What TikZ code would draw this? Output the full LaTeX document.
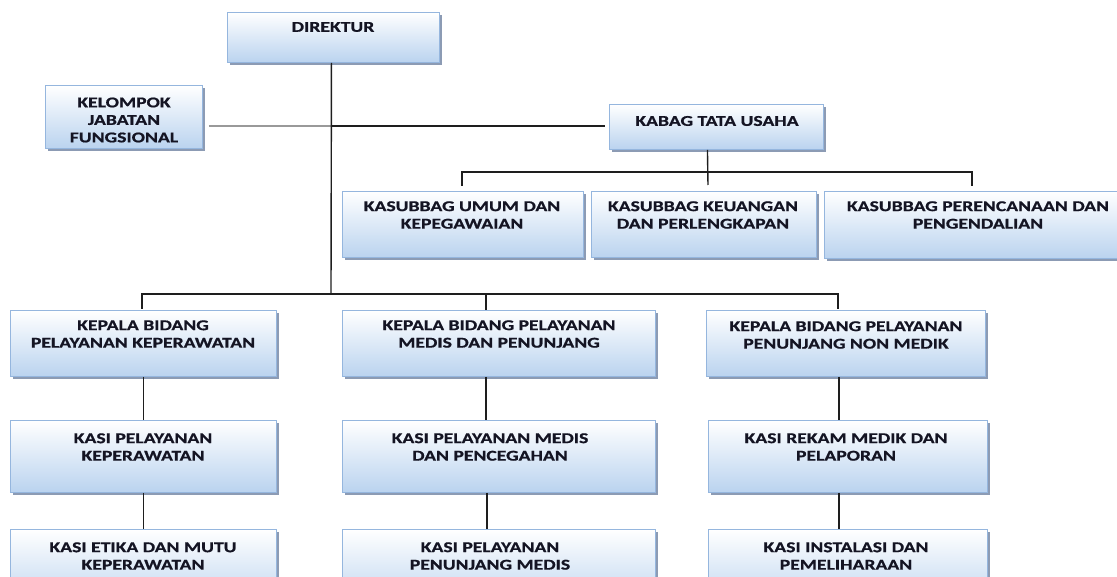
\documentclass[tikz,border=0pt]{standalone}
\usepackage{fontspec}
\newfontfamily\bxfont{Carlito}[FakeStretch=1.31, FakeBold=0.8]
\usetikzlibrary{shadows}
\definecolor{boxblue}{RGB}{186,211,239}
\definecolor{boxline}{RGB}{149,182,222}
\definecolor{shadowc}{RGB}{140,155,180}
\definecolor{linec}{RGB}{30,30,30}
\definecolor{txtc}{RGB}{20,20,35}
\tikzset{
  orgbox/.style={rectangle, draw=boxline, line width=0.9pt, top color=white, bottom color=boxblue,
    anchor=north west, inner sep=0pt,
    drop shadow={shadow xshift=3pt, shadow yshift=-3pt, opacity=1, fill=shadowc}},
  orgtxt/.style={align=center, inner sep=0pt, text=txtc,
    font=\bxfont\bfseries\fontsize{15}{17.5}\selectfont},
  conn/.style={draw=linec, line width=1.4pt},
  lconn/.style={draw=gray!80, line width=1.1pt}
}
\begin{document}
\begin{tikzpicture}[x=1pt,y=-1pt]
\useasboundingbox (0,0) rectangle (1117,577);
\clip (0,0) rectangle (1117,577);
% boxes
\node[orgbox, minimum width=212, minimum height=50] (dir) at (227,12) {};
\node[orgbox, minimum width=157, minimum height=63] (kel) at (45,85) {};
\node[orgbox, minimum width=214, minimum height=45] (kab) at (609,104) {};
\node[orgbox, minimum width=241, minimum height=66] (ks1) at (342,191) {};
\node[orgbox, minimum width=225, minimum height=66] (ks2) at (591,191) {};
\node[orgbox, minimum width=310, minimum height=67] (ks3) at (824,191) {};
\node[orgbox, minimum width=266, minimum height=66] (b1) at (10,310) {};
\node[orgbox, minimum width=313, minimum height=66] (b2) at (342,310) {};
\node[orgbox, minimum width=279, minimum height=66] (b3) at (706,310) {};
\node[orgbox, minimum width=266, minimum height=72] (c1) at (10,420) {};
\node[orgbox, minimum width=313, minimum height=72] (c2) at (342,420) {};
\node[orgbox, minimum width=279, minimum height=72] (c3) at (708,420) {};
\node[orgbox, minimum width=266, minimum height=80] (d1) at (10,529) {};
\node[orgbox, minimum width=313, minimum height=80] (d2) at (342,529) {};
\node[orgbox, minimum width=279, minimum height=80] (d3) at (708,529) {};
% texts
\node[orgtxt] (tdir) at (333,27) {DIREKTUR};
\node[orgtxt] (tkel) at (124,120) {KELOMPOK\\JABATAN\\FUNGSIONAL};
\node[orgtxt] (tkab) at (717,121) {KABAG TATA USAHA};
\node[orgtxt] (tks1) at (462,215) {KASUBBAG UMUM DAN\\KEPEGAWAIAN};
\node[orgtxt] (tks2) at (703,215) {KASUBBAG KEUANGAN\\DAN PERLENGKAPAN};
\node[orgtxt] (tks3) at (978,215) {KASUBBAG PERENCANAAN DAN\\PENGENDALIAN};
\node[orgtxt] (tb1) at (143,334) {KEPALA BIDANG\\PELAYANAN KEPERAWATAN};
\node[orgtxt] (tb2) at (499,334) {KEPALA BIDANG PELAYANAN\\MEDIS DAN PENUNJANG};
\node[orgtxt] (tb3) at (846,335) {KEPALA BIDANG PELAYANAN\\PENUNJANG NON MEDIK};
\node[orgtxt] (tc1) at (143,447) {KASI PELAYANAN\\KEPERAWATAN};
\node[orgtxt] (tc2) at (490,447) {KASI PELAYANAN MEDIS\\DAN PENCEGAHAN};
\node[orgtxt] (tc3) at (846,447) {KASI REKAM MEDIK DAN\\PELAPORAN};
\node[orgtxt] (td1) at (143,556) {KASI ETIKA DAN MUTU\\KEPERAWATAN};
\node[orgtxt] (td2) at (490,556) {KASI PELAYANAN\\PENUNJANG MEDIS};
\node[orgtxt] (td3) at (846,556) {KASI INSTALASI DAN\\PEMELIHARAAN};
% junction coordinates
\coordinate (dj) at (331,126);
\coordinate (bus) at (331,294);
\coordinate (kj) at (708,172);
\coordinate (kbL) at (462,172);
\coordinate (kbR) at (972,172);
\coordinate (bL) at (142,294);
\coordinate (bM) at (486,294);
\coordinate (bR) at (838,294);
% connectors
\draw[lconn] ([xshift=6pt]kel.east |- dj) -- (dj);
\draw[conn] (dj) -- ([xshift=-4pt]kab.west |- dj);
\draw[conn] ([xshift=-2pt]dir.south) -- (bus);
\draw[conn] ([xshift=-9pt]kab.south) -- ([yshift=6pt]kj |- ks2.north);
\draw[conn] ([yshift=5pt]kbL |- ks1.north) -- (kbL) -- (kbR) -- ([yshift=5pt]kbR |- ks3.north);
\draw[conn] ([yshift=1pt]bL |- b1.north) -- (bL) -- (bR) -- ([yshift=1pt]bR |- b3.north);
\draw[conn] (bM) -- (bM |- b2.north);
\draw[conn] (b1.south) -- (c1.north);
\draw[conn] (c1.south) -- (d1.north);
\draw[conn] (bM |- b2.south) -- (bM |- c2.north);
\draw[conn] ([xshift=1pt]bM |- c2.south) -- ([xshift=1pt]bM |- d2.north);
\draw[conn] ([xshift=1pt]bR |- b3.south) -- ([xshift=1pt]bR |- c3.north);
\draw[conn] ([xshift=1pt]bR |- c3.south) -- ([xshift=1pt]bR |- d3.north);
\end{tikzpicture}
\end{document}
